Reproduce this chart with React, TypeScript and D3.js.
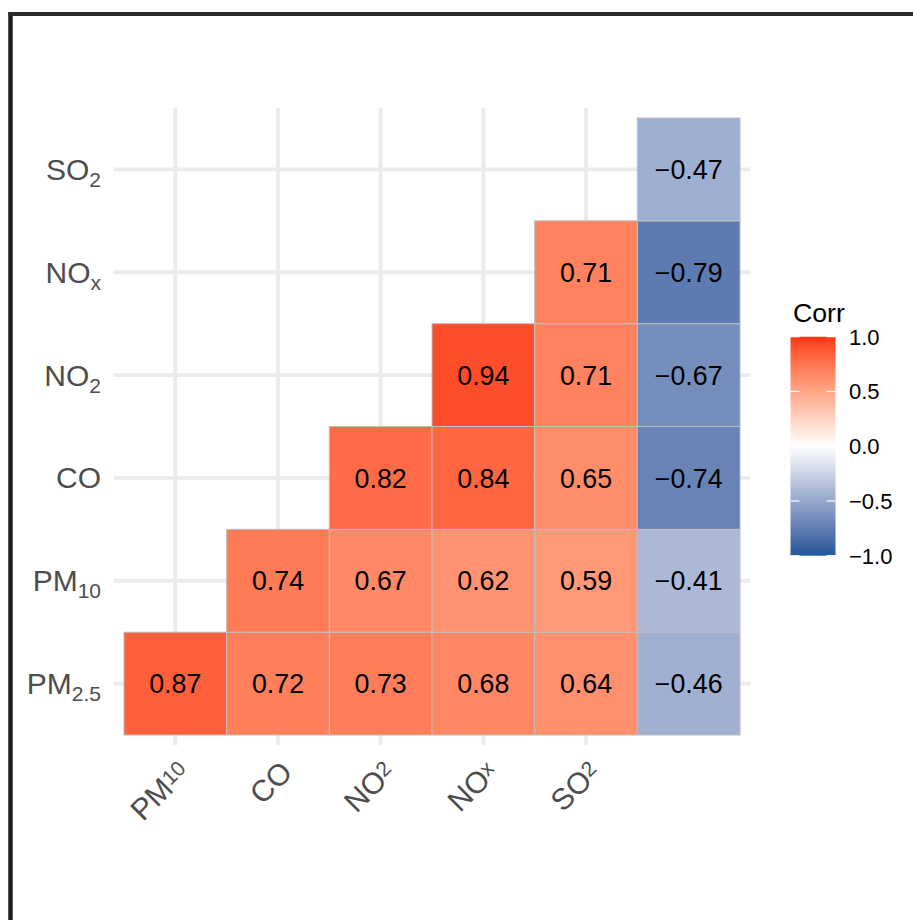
import React from "react";
import * as d3 from "d3";

// Column labels (main text + subscript); the last column carries no label
const xMain = ["PM", "CO", "NO", "NO", "SO", ""];
const xSub = ["10", "", "2", "x", "2", ""];

// Row labels, listed bottom to top
const yMain = ["PM", "PM", "CO", "NO", "NO", "SO"];
const ySub = ["2.5", "10", "", "2", "x", "2"];

// Correlation rows (bottom to top); null = not shown (upper triangle)
const corrPM25 = [0.87, 0.72, 0.73, 0.68, 0.64, -0.46];
const corrPM10 = [null, 0.74, 0.67, 0.62, 0.59, -0.41];
const corrCO = [null, null, 0.82, 0.84, 0.65, -0.74];
const corrNO2 = [null, null, null, 0.94, 0.71, -0.67];
const corrNOx = [null, null, null, null, 0.71, -0.79];
const corrSO2 = [null, null, null, null, null, -0.47];

const legendTicks = [-1, -0.5, 0, 0.5, 1];

const W = 913;
const H = 920;
const FONT = "'Liberation Sans', Arial, Helvetica, sans-serif";

const PANEL = { x0: 113.7, x1: 750.3, y0: 107.7, y1: 745.3 };

export default function App() {
  const rows = [corrPM25, corrPM10, corrCO, corrNO2, corrNOx, corrSO2];
  const colIdx = d3.range(xMain.length);
  const rowIdx = d3.range(yMain.length);

  const x = d3
    .scaleBand<number>()
    .domain(colIdx)
    .range([PANEL.x0, PANEL.x1])
    .paddingInner(0)
    .paddingOuter(0.1);
  const y = d3
    .scaleBand<number>()
    .domain([...rowIdx].reverse())
    .range([PANEL.y0, PANEL.y1])
    .paddingInner(0)
    .paddingOuter(0.1);

  const color = d3
    .scaleLinear<string>()
    .domain([-1, 0, 1])
    .range(["#1E5799", "#FFFFFF", "#FF3414"])
    .interpolate(d3.interpolateLab);

  const fmt = d3.format(".2f");

  const cells: { r: number; c: number; v: number }[] = [];
  rows.forEach((row, r) =>
    row.forEach((v, c) => {
      if (v !== null) cells.push({ r, c, v: v as number });
    })
  );

  // Legend colour bar
  const lg = { x: 790.5, w: 45, top: 336.7, bottom: 555.7 };
  const ly = d3.scaleLinear().domain([-1, 1]).range([lg.bottom, lg.top]);
  const stops = d3.range(0, 1.0001, 0.05);

  const bw = x.bandwidth();
  const bh = y.bandwidth();

  return (
    <div style={{ position: "absolute", left: 0, top: 0 }}>
      <svg width={W} height={H} style={{ display: "block", background: "#fff" }} fontFamily={FONT}>
        <defs>
          <linearGradient id="corrGrad" x1="0" y1="1" x2="0" y2="0">
            {stops.map((t) => (
              <stop key={t} offset={t} stopColor={color(-1 + 2 * t)} />
            ))}
          </linearGradient>
        </defs>
        <rect width={W} height={H} fill="#fff" />

        {/* outer frame */}
        <line x1={10.5} x2={10.5} y1={12} y2={H} stroke="#1e1e1e" strokeWidth={4.5} />
        <line x1={8.5} x2={W} y1={14} y2={14} stroke="#2a2a2a" strokeWidth={4} />

        {/* grid */}
        {rowIdx.map((r) => (
          <line
            key={"gh" + r}
            x1={PANEL.x0}
            x2={PANEL.x1}
            y1={(y(r) as number) + bh / 2}
            y2={(y(r) as number) + bh / 2}
            stroke="#EBEBEB"
            strokeWidth={3.8}
          />
        ))}
        {colIdx
          .filter((c) => xMain[c] !== "")
          .map((c) => (
            <line
              key={"gv" + c}
              y1={PANEL.y0}
              y2={PANEL.y1}
              x1={(x(c) as number) + bw / 2}
              x2={(x(c) as number) + bw / 2}
              stroke="#EBEBEB"
              strokeWidth={3.8}
            />
          ))}

        {/* tiles */}
        {cells.map((d) => (
          <rect
            key={`t${d.r}-${d.c}`}
            x={x(d.c)}
            y={y(d.r)}
            width={bw}
            height={bh}
            fill={color(d.v)}
            fillOpacity={0.97}
            stroke="#BEBEBE"
            strokeWidth={1}
          />
        ))}
        {cells.map((d) => (
          <text
            key={`l${d.r}-${d.c}`}
            x={(x(d.c) as number) + bw / 2}
            y={(y(d.r) as number) + bh / 2}
            dy="0.36em"
            textAnchor="middle"
            fontSize={26.8}
            fill="#000"
          >
            {fmt(d.v)}
          </text>
        ))}

        {/* y axis labels */}
        {rowIdx.map((r) => (
          <text
            key={"yl" + r}
            x={101}
            y={(y(r) as number) + bh / 2 + 10.5}
            textAnchor="end"
            fontSize={30}
            fill="#4D4D4D"
          >
            {yMain[r]}
            {ySub[r] !== "" && (
              <tspan fontSize={21} dy={7}>
                {ySub[r]}
              </tspan>
            )}
          </text>
        ))}

        {/* x axis labels, rotated */}
        {colIdx
          .filter((c) => xMain[c] !== "")
          .map((c) => (
            <text
              key={"xl" + c}
              transform={`translate(${(x(c) as number) + bw / 2 + 16},${774}) rotate(-45)`}
              textAnchor="end"
              fontSize={30}
              fill="#4D4D4D"
            >
              {xMain[c]}
              {xSub[c] !== "" && (
                <tspan fontSize={21} dy={-6}>
                  {xSub[c]}
                </tspan>
              )}
            </text>
          ))}

        {/* legend */}
        <text x={793} y={321.5} fontSize={26.7} fill="#000">
          Corr
        </text>
        <rect x={lg.x} y={lg.top} width={lg.w} height={lg.bottom - lg.top} fill="url(#corrGrad)" />
        {legendTicks.map((t) => (
          <g key={"lt" + t}>
            <line x1={lg.x} x2={lg.x + 9} y1={ly(t)} y2={ly(t)} stroke="#fff" strokeWidth={1.2} />
            <line x1={lg.x + lg.w - 9} x2={lg.x + lg.w} y1={ly(t)} y2={ly(t)} stroke="#fff" strokeWidth={1.2} />
            <text x={849} y={ly(t)} dy="0.36em" fontSize={22} fill="#000">
              {d3.format(".1f")(t)}
            </text>
          </g>
        ))}
      </svg>
    </div>
  );
}
